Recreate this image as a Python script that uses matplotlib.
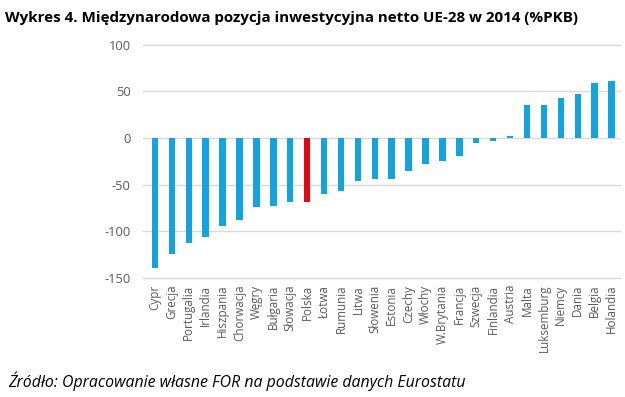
import matplotlib
matplotlib.use("Agg")
import matplotlib.pyplot as plt

countries = ["Cypr", "Grecja", "Portugalia", "Irlandia", "Hiszpania", "Chorwacja",
             "Węgry", "Bułgaria", "Słowacja", "Polska", "Łotwa", "Rumunia", "Litwa",
             "Słowenia", "Estonia", "Czechy", "Włochy", "W.Brytania", "Francja",
             "Szwecja", "Finlandia", "Austria", "Malta", "Luksemburg", "Niemcy",
             "Dania", "Belgia", "Holandia"]
values = [-139, -124, -113, -106, -94, -88, -74, -73, -69, -68.6, -60, -57, -46,
          -43.6, -43.6, -35.7, -27.9, -24.3, -19.6, -5.7, -2.9, 2.5, 35.4, 36,
          42.5, 47.5, 59.3, 60.7]
highlight = "Polska"
yticks = [-150, -100, -50, 0, 50, 100]

plt.rcParams['font.family'] = ['Open Sans', 'DejaVu Sans']

fig = plt.figure(figsize=(6.25, 3.97), dpi=100)
ax = fig.add_axes([0.229, 0.30, 0.763, 0.587])

colors = ["#E30613" if c == highlight else "#13A4DF" for c in countries]
x = range(len(countries))
ax.bar(x, values, width=0.38, color=colors, zorder=3)

ax.set_ylim(-150, 100)
ax.set_xlim(-0.7, len(countries) - 0.5)
ax.set_yticks(yticks)
ax.set_yticklabels([str(t) for t in yticks], fontsize=9.3, color="#595959")
ax.set_xticks(list(x))
ax.set_xticklabels(countries, rotation=90, fontsize=8.4, color="#595959")
ax.tick_params(axis='both', length=0)
ax.tick_params(axis='y', pad=9)
ax.tick_params(axis='x', pad=5)
ax.grid(axis='y', color="#D9D9D9", linewidth=1, zorder=0)
for gl in ax.get_ygridlines():
    gl.set_clip_on(False)
for s in ax.spines.values():
    s.set_visible(False)

fig.text(0.008, 0.955, "Wykres 4. Międzynarodowa pozycja inwestycyjna netto UE-28 w 2014 (%PKB)",
         fontsize=10.9, fontweight='bold', ha='left', va='center', color="#000000")
fig.text(0.013, 0.04, "Źródło: Opracowanie własne FOR na podstawie danych Eurostatu",
         fontsize=11.4, style='italic', ha='left', va='center', color="#000000")

fig.savefig("out.png", dpi=100)
